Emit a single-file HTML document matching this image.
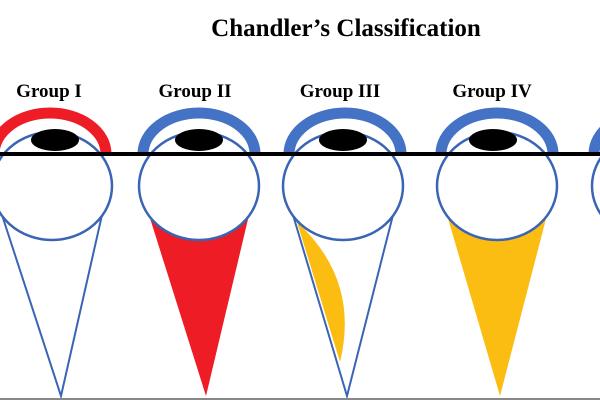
<!DOCTYPE html>
<html><head><style>body{margin:0;background:#fff}svg{display:block}</style></head><body>
<svg width="600" height="400" viewBox="0 0 600 400" xmlns="http://www.w3.org/2000/svg">
<rect width="600" height="400" fill="#fff"/>
<text x="346" y="36" text-anchor="middle" font-family="Liberation Serif, serif" font-weight="bold" font-size="25">Chandler’s Classification</text>
<g font-family="Liberation Serif, serif" font-weight="bold" font-size="19" text-anchor="middle">
<text x="49" y="97">Group I</text>
<text x="195" y="97">Group II</text>
<text x="340" y="97">Group III</text>
<text x="492" y="97">Group IV</text>
</g>
<!-- cones -->
<polygon points="2,215 61,396 102,215" fill="none" stroke="#3a64b4" stroke-width="2"/>
<polygon points="149,215 206,396 249,215" fill="#ee1c25"/>
<polygon points="293,215 347,396 393,215" fill="none" stroke="#3a64b4" stroke-width="2"/>
<path d="M297,222 Q360,280 340,362 Z" fill="#fcbd12"/>
<polygon points="447,215 500,396 547,215" fill="#fcbd12"/>
<!-- brows -->
<g fill="none" stroke-width="11">
<path d="M-6,154 A56,41 0 0 1 106,154" stroke="#ee1c25"/>
<path d="M143,154 A56,41 0 0 1 255,154" stroke="#4472c4"/>
<path d="M289,154 A56,41 0 0 1 401,154" stroke="#4472c4"/>
<path d="M441,154 A56,41 0 0 1 553,154" stroke="#4472c4"/>
<path d="M594,154 A56,41 0 0 1 706,154" stroke="#4472c4"/>
</g>
<!-- circles -->
<g fill="#fff" stroke="#3a64b4" stroke-width="2.5">
<ellipse cx="52" cy="186" rx="60" ry="54"/>
<ellipse cx="199" cy="186" rx="60" ry="54"/>
<ellipse cx="343" cy="186" rx="60" ry="54"/>
<ellipse cx="497" cy="186" rx="60" ry="54"/>
<ellipse cx="652" cy="186" rx="60" ry="54"/>
</g>
<!-- pupils -->
<g fill="#000">
<ellipse cx="55" cy="140" rx="24" ry="11"/>
<ellipse cx="199" cy="140" rx="24" ry="11"/>
<ellipse cx="343" cy="140" rx="24" ry="11"/>
<ellipse cx="493" cy="140" rx="24" ry="11"/>
</g>
<rect x="0" y="152" width="600" height="4" fill="#000"/>
<rect x="0" y="398" width="600" height="2" fill="#888"/>
</svg>
</body></html>
